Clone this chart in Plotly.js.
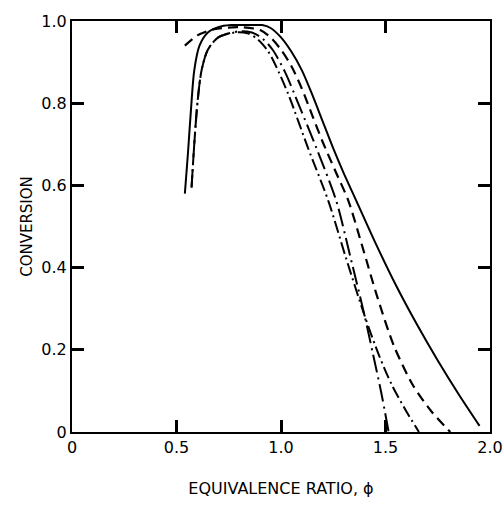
<!DOCTYPE html>
<html>
<head>
<meta charset="utf-8">
<script src="https://cdn.plot.ly/plotly-3.0.1.min.js"></script>
<style>html,body{margin:0;padding:0;background:#fff;}#chart{width:503px;height:519px;}</style>
</head>
<body>
<div id="chart"></div>
<script>
// Curve A (solid)
const solidX = [0.54, 0.555, 0.57, 0.585, 0.61, 0.65, 0.70, 0.76, 0.85, 0.91, 0.95, 1.00, 1.05, 1.10, 1.15, 1.20, 1.25, 1.30, 1.36, 1.45, 1.55, 1.65, 1.75, 1.85, 1.95];
const solidY = [0.58, 0.68, 0.79, 0.88, 0.94, 0.972, 0.985, 0.99, 0.99, 0.99, 0.983, 0.96, 0.925, 0.88, 0.82, 0.755, 0.69, 0.63, 0.563, 0.462, 0.357, 0.262, 0.174, 0.092, 0.015];
// Curve B (dashed)
const dashX = [0.54, 0.60, 0.68, 0.80, 0.90, 0.95, 1.00, 1.05, 1.10, 1.15, 1.20, 1.26, 1.322, 1.39, 1.46, 1.54, 1.63, 1.72, 1.81];
const dashY = [0.94, 0.965, 0.98, 0.985, 0.978, 0.96, 0.93, 0.89, 0.835, 0.77, 0.705, 0.635, 0.563, 0.45, 0.33, 0.21, 0.115, 0.05, 0.0];
// Curve C (dash-dot)
const dashDotX = [0.572, 0.585, 0.60, 0.62, 0.65, 0.70, 0.78, 0.84, 0.89, 0.94, 0.99, 1.04, 1.13, 1.226, 1.31, 1.40, 1.47, 1.53, 1.60, 1.66];
const dashDotY = [0.595, 0.70, 0.80, 0.88, 0.93, 0.96, 0.972, 0.97, 0.955, 0.925, 0.875, 0.815, 0.69, 0.563, 0.425, 0.283, 0.185, 0.115, 0.05, 0.0];
// Curve D (long dash-dot)
const longDashDotX = [0.572, 0.585, 0.60, 0.62, 0.65, 0.70, 0.80, 0.86, 0.91, 0.96, 1.02, 1.07, 1.17, 1.264, 1.33, 1.40, 1.44, 1.48, 1.515];
const longDashDotY = [0.595, 0.70, 0.80, 0.88, 0.93, 0.96, 0.975, 0.972, 0.958, 0.93, 0.875, 0.815, 0.69, 0.563, 0.43, 0.283, 0.19, 0.095, 0.0];

const xTickVals = [0, 0.5, 1.0, 1.5, 2.0];
const xTickText = ["0", "0.5", "1.0", "1.5", "2.0"];
const yTickVals = [0, 0.2, 0.4, 0.6, 0.8, 1.0];
const yTickText = ["0", "0.2", "0.4", "0.6", "0.8", "1.0"];

const traces = [
  {type: 'scatter', mode: 'lines', x: solidX, y: solidY, line: {color: '#000', width: 2, shape: 'spline', smoothing: 0.8}},
  {type: 'scatter', mode: 'lines', x: dashX, y: dashY, line: {color: '#000', width: 2.2, dash: '10px,6px', shape: 'spline', smoothing: 0.8}},
  {type: 'scatter', mode: 'lines', x: dashDotX, y: dashDotY, line: {color: '#000', width: 2, dash: '12px,4px,2px,4px', shape: 'spline', smoothing: 0.8}},
  {type: 'scatter', mode: 'lines', x: longDashDotX, y: longDashDotY, line: {color: '#000', width: 2, dash: '18px,5px,2px,5px', shape: 'spline', smoothing: 0.8}}
];

const layout = {
  width: 503, height: 519,
  showlegend: false,
  margin: {l: 72, r: 13, t: 21, b: 87},
  xaxis: {
    range: [0, 2.0], tickvals: xTickVals, ticktext: xTickText,
    showgrid: false, zeroline: false, showline: true, linecolor: '#000', linewidth: 2,
    mirror: 'ticks', ticks: 'inside', ticklen: 12, tickwidth: 2.5, tickcolor: 'rgb(0,0,0)',
    layer: 'above traces',
    tickfont: {family: 'DejaVu Sans, sans-serif', size: 16, color: '#000'},
    title: {text: 'EQUIVALENCE RATIO, ϕ', font: {family: 'DejaVu Sans, sans-serif', size: 16, color: '#000'}, standoff: 27}
  },
  yaxis: {
    range: [0, 1.0], tickvals: yTickVals, ticktext: yTickText,
    showgrid: false, zeroline: false, showline: true, linecolor: '#000', linewidth: 2,
    mirror: 'ticks', ticks: 'inside', ticklen: 12, tickwidth: 2.5, tickcolor: 'rgb(0,0,0)',
    layer: 'above traces',
    tickfont: {family: 'DejaVu Sans, sans-serif', size: 16, color: '#000'},
    title: {text: 'CONVERSION', font: {family: 'DejaVu Sans, sans-serif', size: 15, color: '#000'}, standoff: 5}
  }
};

Plotly.newPlot('chart', traces, layout, {displayModeBar: false});
</script>
</body>
</html>
